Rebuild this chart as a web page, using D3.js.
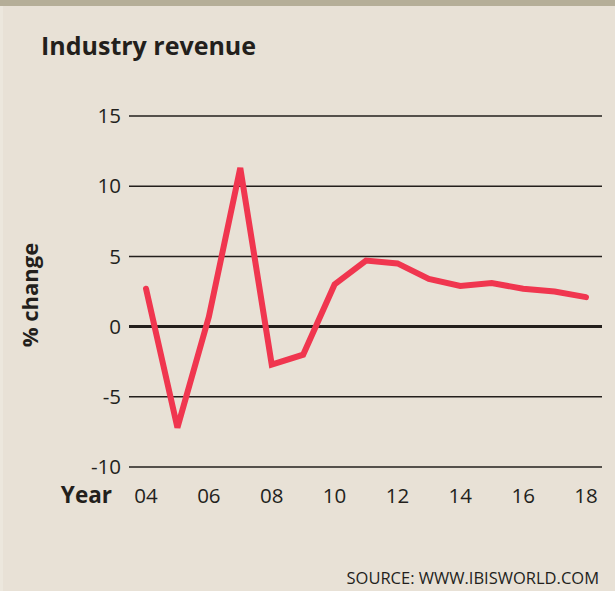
<!DOCTYPE html>
<html><head><meta charset="utf-8">
<script src="https://cdn.jsdelivr.net/npm/d3@7"></script>
<style>
html,body{margin:0;padding:0;background:#e8e1d6;}
svg{display:block;}
text{font-family:"Open Sans","Lato",sans-serif;fill:#231f1c;}
</style></head>
<body>
<svg id="chart" width="615" height="591"></svg>
<script>
const years = [2004,2005,2006,2007,2008,2009,2010,2011,2012,2013,2014,2015,2016,2017,2018];
const values = [2.7,-7.2,0.7,11.3,-2.7,-2.0,3.0,4.7,4.5,3.4,2.9,3.1,2.7,2.5,2.1];
const yTicks = [15,10,5,0,-5,-10];
const yTickLabels = ["15","10","5","0","-5","-10"];
const xTicks = [2004,2006,2008,2010,2012,2014,2016,2018];
const xTickLabels = ["04","06","08","10","12","14","16","18"];

const svg = d3.select("#chart");
svg.append("rect").attr("x",0).attr("y",0).attr("width",615).attr("height",591).attr("fill","#e8e1d6");
svg.append("rect").attr("x",0).attr("y",0).attr("width",615).attr("height",6).attr("fill","#b5ae98");
svg.append("rect").attr("x",0).attr("y",6).attr("width",3).attr("height",585).attr("fill","#ece7dd");

const x = d3.scaleLinear().domain([2004,2018]).range([146,586]);
const y = d3.scaleLinear().domain([-10,15]).range([467,116]);

// gridlines
const grid = svg.append("g");
grid.selectAll("line").data(yTicks).join("line")
  .attr("x1",129).attr("x2",602)
  .attr("y1",d=>y(d)).attr("y2",d=>y(d))
  .attr("stroke","#231f1c")
  .attr("stroke-width",d=>d===0?3:1.5);

// y tick labels
svg.append("g").selectAll("text").data(yTicks).join("text")
  .attr("x",121).attr("y",d=>y(d)).attr("dy","0.35em")
  .attr("text-anchor","end").attr("font-size",20.5)
  .text((d,i)=>yTickLabels[i]);

// x tick labels
svg.append("g").selectAll("text").data(xTicks).join("text")
  .attr("x",d=>x(d)).attr("y",503)
  .attr("text-anchor","middle").attr("font-size",20.5)
  .text((d,i)=>xTickLabels[i]);

svg.append("text").attr("x",112).attr("y",503).attr("text-anchor","end")
  .attr("font-size",22.5).attr("font-weight","bold").text("Year");

svg.append("text").attr("transform","translate(38,295) rotate(-90)")
  .attr("text-anchor","middle").attr("font-size",22).attr("font-weight","bold").text("% change");

svg.append("text").attr("x",41).attr("y",55)
  .attr("font-size",25).attr("font-weight","bold").text("Industry revenue");

svg.append("text").attr("x",599).attr("y",584).attr("text-anchor","end")
  .attr("font-size",16.5).attr("fill","#2b2724").text("SOURCE: WWW.IBISWORLD.COM");

// line
const line = d3.line().x((d,i)=>x(years[i])).y(d=>y(d));
svg.append("path").datum(values).attr("d",line)
  .attr("fill","none").attr("stroke","#f0364f").attr("stroke-width",6)
  .attr("stroke-linejoin","miter").attr("stroke-linecap","round");
</script>
</body></html>
